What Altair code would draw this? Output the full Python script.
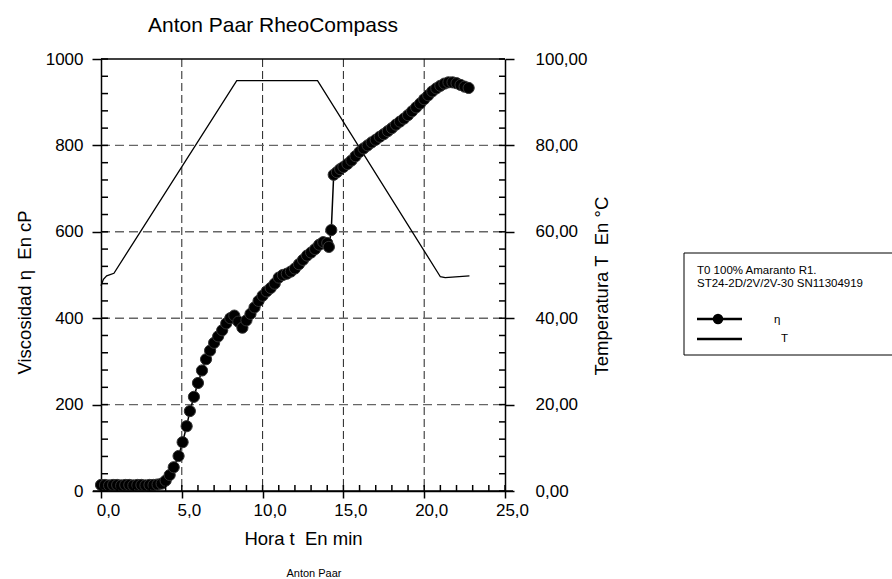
import altair as alt
import pandas as pd

FONT = "Liberation Sans"

# Viscosity curve: time (min) and eta (cP)
time_min = [0.0, 0.25, 0.5, 0.75, 1.0, 1.25, 1.5, 1.75, 2.0, 2.25, 2.5, 2.75, 3.0, 3.25, 3.5, 3.75,
            4.0, 4.25, 4.5, 4.8, 5.05, 5.3, 5.5, 5.75,
            6.0, 6.25, 6.5, 6.75, 7.0, 7.25, 7.5, 7.75, 8.0, 8.25, 8.5, 8.75, 9.0, 9.25, 9.5, 9.75,
            10.0, 10.25, 10.5, 10.75, 11.0, 11.25, 11.5, 11.75, 12.0, 12.25, 12.5, 12.75, 13.0, 13.25,
            13.5, 13.75, 14.0,
            14.1, 14.25, 14.4, 14.6, 14.8,
            15.0, 15.25, 15.5, 15.75, 16.0, 16.25, 16.5, 16.75, 17.0, 17.25, 17.5, 17.75, 18.0, 18.25,
            18.5, 18.75, 19.0, 19.25, 19.5, 19.75, 20.0, 20.25, 20.5, 20.75, 21.0, 21.25, 21.5, 21.75,
            22.0, 22.25, 22.5, 22.75]
viscosity_cp = [14, 14, 13, 14, 14, 13, 14, 14, 13, 14, 14, 13, 14, 14, 15, 17,
                24, 37, 55, 81, 113, 150, 185, 218,
                250, 279, 305, 325, 343, 358, 372, 388, 400, 406, 392, 378, 395, 410, 425, 440,
                452, 462, 470, 480, 494, 500, 503, 508, 515, 525, 535, 545, 552, 560,
                570, 576, 574,
                565, 604, 732, 738, 745,
                750, 757, 765, 775, 785, 793, 800, 807, 813, 820, 826, 833, 840, 848,
                855, 862, 870, 879, 888, 897, 907, 916, 925, 932, 938, 943, 946, 946,
                944, 940, 936, 933]

# Temperature profile: time (min) and T (°C)
temp_time_min = [0.0, 0.15, 0.35, 0.8, 8.4, 13.4, 21.0, 21.3, 22.8]
temperature_c = [47.5, 49.0, 49.8, 50.4, 95.0, 95.0, 49.6, 49.4, 49.8]

# Axis ticks and grid
x_ticks = [0, 5, 10, 15, 20, 25]
eta_ticks = [0, 200, 400, 600, 800, 1000]
temp_ticks = [0, 20, 40, 60, 80, 100]
x_grid = [5, 10, 15, 20]
eta_grid = [200, 400, 600, 800]
x_minor = list(range(0, 26))
eta_minor = list(range(0, 1001, 40))
temp_minor = list(range(0, 101, 4))

# Texts
chart_title = "Anton Paar RheoCompass"
footer = "Anton Paar"
x_title = "Hora t\u00a0 En min"
eta_title = "Viscosidad η\u00a0 En cP"
temp_title = "Temperatura T\u00a0 En °C"
legend_header = ["T0 100% Amaranto R1.", "ST24-2D/2V/2V-30 SN11304919"]
legend_names = ["η", "T"]

W, H = 404, 432

visc = pd.DataFrame({"t": time_min, "eta": viscosity_cp})
temp = pd.DataFrame({"t": temp_time_min, "T": temperature_c})

x_scale = alt.Scale(domain=[0, 25], nice=False, zero=False)
eta_scale = alt.Scale(domain=[0, 1000], nice=False)
temp_scale = alt.Scale(domain=[0, 100], nice=False)

comma1 = "replace(format(datum.value, '.1f'), '.', ',')"
comma2 = "replace(format(datum.value, '.2f'), '.', ',')"

common_axis = dict(
    grid=False, domainColor="black", domainWidth=1.5, tickColor="black", tickWidth=1.5,
    labelFont=FONT, labelFontSize=17, labelColor="black", labelFlush=False,
    titleFont=FONT, titleFontSize=18.5, titleFontWeight="normal", titleColor="black",
)

x_axis = alt.Axis(values=x_ticks, labelExpr=comma1, title=x_title, tickSize=7, labelPadding=4,
                  labelOffset=7, titleY=53, titleBaseline="alphabetic", **common_axis)
eta_axis = alt.Axis(values=eta_ticks, orient="left", format="d", title=eta_title, tickSize=9,
                    labelPadding=9, titleAngle=270, titleAlign="left", titleBaseline="middle",
                    titleX=-77, titleY=315, **common_axis)
temp_axis = alt.Axis(values=temp_ticks, orient="right", labelExpr=comma2, title=temp_title,
                     tickSize=9, labelPadding=21, titleAngle=270, titleAlign="left",
                     titleBaseline="middle", titleX=96, titleY=316, **common_axis)

X = alt.X("t:Q", scale=x_scale, axis=x_axis)

# Dashed grid
grid_v = alt.Chart(pd.DataFrame({"t": x_grid})).mark_rule(
    color="#222", strokeWidth=1, strokeDash=[8, 4]
).encode(x=X, y=alt.value(0), y2=alt.value(H))

grid_h = alt.Chart(pd.DataFrame({"eta": eta_grid})).mark_rule(
    color="#666", strokeWidth=1.4, strokeDash=[9, 5]
).encode(x=alt.value(0), x2=alt.value(W), y=alt.Y("eta:Q", scale=eta_scale, axis=None))

# Temperature line on the right axis
temp_line = alt.Chart(temp).mark_line(color="black", strokeWidth=1.3).encode(
    x=X, y=alt.Y("T:Q", scale=temp_scale, axis=temp_axis)
)

# Viscosity line and markers on the left axis
eta_line = alt.Chart(visc).mark_line(color="black", strokeWidth=1.5).encode(
    x=X, y=alt.Y("eta:Q", scale=eta_scale, axis=eta_axis)
)
eta_pts = alt.Chart(visc).mark_circle(
    color="black", opacity=1, size=125, stroke="#333", strokeWidth=1
).encode(x=X, y=alt.Y("eta:Q", scale=eta_scale, axis=None))

# Inward ticks
x_in = alt.Chart(pd.DataFrame({"t": x_minor})).mark_rule(color="black", strokeWidth=1.5).encode(
    x=X, y=alt.value(H), y2=alt.value(H - 6)
)
eta_in = alt.Chart(pd.DataFrame({"eta": eta_minor})).mark_rule(color="black", strokeWidth=1.5).encode(
    y=alt.Y("eta:Q", scale=eta_scale, axis=None), x=alt.value(0), x2=alt.value(7)
)
temp_in = alt.Chart(pd.DataFrame({"T": temp_minor})).mark_rule(color="black", strokeWidth=1.5).encode(
    y=alt.Y("T:Q", scale=temp_scale, axis=None), x=alt.value(W), x2=alt.value(W - 6)
)

one = alt.Data(values=[{}])

# Frame pieces: top line and extended baseline
top_line = alt.Chart(one).mark_rule(color="black", strokeWidth=1.5).encode(
    x=alt.value(0), x2=alt.value(W), y=alt.value(0)
)
base_line = alt.Chart(one).mark_rule(color="black", strokeWidth=1.5).encode(
    x=alt.value(-8), x2=alt.value(W + 8), y=alt.value(H)
)

title_mark = alt.Chart(alt.Data(values=[{"s": chart_title}])).mark_text(
    font=FONT, fontSize=21, color="black", align="center", baseline="alphabetic"
).encode(text="s:N", x=alt.value(172), y=alt.value(-27))

footer_mark = alt.Chart(alt.Data(values=[{"s": footer}])).mark_text(
    font=FONT, fontSize=11, color="black", align="center", baseline="alphabetic"
).encode(text="s:N", x=alt.value(213), y=alt.value(518))

# Legend box
leg_box = alt.Chart(one).mark_rect(fill="white", stroke="black", strokeWidth=1).encode(
    x=alt.value(583), x2=alt.value(830), y=alt.value(194), y2=alt.value(296)
)
leg_head = alt.Chart(alt.Data(values=[{"s": legend_header[0], "y": 215},
                                      {"s": legend_header[1], "y": 228}])).mark_text(
    font=FONT, fontSize=11.5, color="black", align="left", baseline="alphabetic"
).encode(text="s:N", x=alt.value(596), y=alt.Y("y:Q", scale=None))
leg_line1 = alt.Chart(one).mark_rule(color="black", strokeWidth=2.5).encode(
    x=alt.value(596), x2=alt.value(641), y=alt.value(260)
)
leg_dot = alt.Chart(one).mark_circle(color="black", opacity=1, size=110).encode(
    x=alt.value(617), y=alt.value(260)
)
leg_line2 = alt.Chart(one).mark_rule(color="black", strokeWidth=2.5).encode(
    x=alt.value(596), x2=alt.value(641), y=alt.value(280)
)
leg_names = alt.Chart(alt.Data(values=[{"s": legend_names[0], "x": 673, "y": 261},
                                       {"s": legend_names[1], "x": 680, "y": 280}])).mark_text(
    font=FONT, fontSize=11.5, color="black", align="left", baseline="middle"
).encode(text="s:N", x=alt.X("x:Q", scale=None), y=alt.Y("y:Q", scale=None))

chart = alt.layer(
    grid_v, grid_h, temp_line, eta_line, eta_pts, x_in, eta_in, temp_in, top_line, base_line,
    title_mark, footer_mark, leg_box, leg_head, leg_line1, leg_dot, leg_line2, leg_names,
).resolve_scale(y="independent").properties(
    width=W, height=H,
    autosize=alt.AutoSizeParams(type="none"),
    padding={"left": 101, "top": 59, "right": 387, "bottom": 88},
    background="white",
).configure_view(stroke=None)

chart.save("out.html", embed_options={"renderer": "svg", "actions": False})
